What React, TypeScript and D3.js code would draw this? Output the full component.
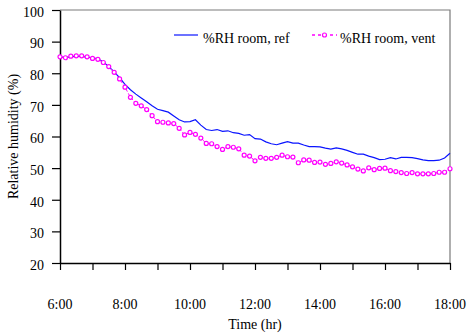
import { useEffect, useRef } from 'react';
import * as d3 from 'd3';

// readings every 10 minutes from 6:00 to 18:00
const rhRef = [
  85.1, 85.0, 85.2, 85.4, 85.3, 85.1, 84.9, 84.6, 83.6, 82.1, 80.4, 78.6, 76.5, 74.8, 73.4, 72.2, 71.0, 69.7,
  68.6, 68.2, 67.7, 66.5, 65.3, 64.6, 64.7, 65.3, 63.6, 62.2, 61.9, 62.2, 61.6, 61.8, 61.2, 61.0, 60.4, 60.6,
  59.3, 59.2, 58.3, 57.7, 57.4, 57.9, 58.4, 57.9, 57.9, 57.3, 56.8, 56.8, 56.7, 56.3, 56.0, 56.4, 56.1, 55.6,
  55.0, 54.4, 54.4, 53.8, 53.3, 52.7, 52.8, 53.3, 52.9, 53.4, 53.4, 53.3, 53.0, 52.6, 52.4, 52.4, 52.5, 53.2,
  54.7,
];

const rhVent = [
  85.2, 84.9, 85.4, 85.5, 85.5, 85.2, 84.7, 84.4, 83.4, 82.1, 80.3, 78.2, 75.6, 72.4, 70.5, 69.7, 68.5, 66.6,
  64.7, 64.5, 64.3, 64.1, 62.6, 60.5, 61.3, 60.7, 59.5, 57.8, 57.7, 56.8, 55.9, 56.8, 56.6, 56.1, 54.1, 53.8,
  52.3, 53.4, 53.1, 53.1, 53.4, 54.1, 53.6, 53.5, 51.7, 52.6, 52.5, 51.8, 51.9, 51.2, 51.5, 52.0, 51.6, 51.0,
  50.4, 49.7, 49.1, 50.1, 49.5, 49.9, 50.0, 49.2, 48.9, 48.6, 48.3, 48.6, 48.2, 48.2, 48.2, 48.3, 48.7, 48.7,
  49.8,
];

const xTickLabels = ['6:00', '8:00', '10:00', '12:00', '14:00', '16:00', '18:00'];
const yTicks = [20, 30, 40, 50, 60, 70, 80, 90, 100];
const seriesNames = ['%RH room, ref', '%RH room, vent'];

export default function App() {
  const svgRef = useRef<SVGSVGElement>(null);

  useEffect(() => {
    if (!svgRef.current) return;
    document.body.style.margin = '0';

    const width = 467;
    const height = 335;
    const margin = { top: 10, right: 17, bottom: 72, left: 60 };
    const innerWidth = width - margin.left - margin.right;
    const innerHeight = height - margin.top - margin.bottom;
    const font = '"Liberation Serif", "Times New Roman", serif';

    d3.select(svgRef.current).selectAll('*').remove();
    const svg = d3.select(svgRef.current).attr('width', width).attr('height', height);
    svg.append('rect').attr('width', width).attr('height', height).attr('fill', '#fff');

    const g = svg.append('g').attr('transform', `translate(${margin.left},${margin.top})`);

    const x = d3.scaleLinear().domain([6, 18]).range([0, innerWidth]);
    const y = d3.scaleLinear().domain([20, 100]).range([innerHeight, 0]);
    const hourOf = (i: number) => 6 + (i * 10) / 60;

    // grey frame on top and right
    g.append('path')
      .attr('d', `M0,0H${innerWidth}V${innerHeight}`)
      .attr('fill', 'none')
      .attr('stroke', '#7a7a7a')
      .attr('stroke-width', 1.2);

    const xAxis = g
      .append('g')
      .attr('transform', `translate(0,${innerHeight})`)
      .call(
        d3
          .axisBottom(x)
          .tickValues(d3.range(6, 19, 1))
          .tickSize(7)
          .tickSizeOuter(0)
          .tickFormat(() => '')
      );
    xAxis.select('.domain').attr('stroke', '#000').attr('stroke-width', 1.5);
    xAxis.selectAll('.tick line').attr('stroke', '#000').attr('stroke-width', 1.2);

    g.selectAll('.xlab')
      .data(xTickLabels)
      .enter()
      .append('text')
      .attr('x', (_, i) => x(6 + i * 2))
      .attr('y', innerHeight + 46)
      .attr('text-anchor', 'middle')
      .style('font-family', font)
      .style('font-size', '14px')
      .attr('fill', '#000')
      .text((d) => d);

    const yAxis = g.append('g').call(d3.axisLeft(y).tickValues(yTicks).tickSize(8).tickSizeOuter(0).tickPadding(8));
    yAxis.select('.domain').attr('stroke', '#000').attr('stroke-width', 1.5);
    yAxis.selectAll('.tick line').attr('stroke', '#000').attr('stroke-width', 1.2);
    yAxis
      .selectAll('.tick text')
      .style('font-family', font)
      .style('font-size', '14px')
      .attr('fill', '#000')
      .attr('dy', '0.45em');

    const line = d3
      .line<number>()
      .x((_, i) => x(hourOf(i)))
      .y((d) => y(d));

    g.append('path')
      .datum(rhRef)
      .attr('fill', 'none')
      .attr('stroke', '#0a14ff')
      .attr('stroke-width', 1.2)
      .attr('d', line);

    g.append('path')
      .datum(rhVent)
      .attr('fill', 'none')
      .attr('stroke', '#ff00ff')
      .attr('stroke-width', 1)
      .attr('stroke-dasharray', '3,2')
      .attr('d', line);

    g.selectAll('.vent')
      .data(rhVent)
      .enter()
      .append('circle')
      .attr('cx', (_, i) => x(hourOf(i)))
      .attr('cy', (d) => y(d))
      .attr('r', 2)
      .attr('fill', '#fff')
      .attr('stroke', '#ff00ff')
      .attr('stroke-width', 1.2);

    // axis titles
    svg
      .append('text')
      .attr('x', margin.left + innerWidth / 2)
      .attr('y', 329)
      .attr('text-anchor', 'middle')
      .style('font-family', font)
      .style('font-size', '14px')
      .text('Time (hr)');

    svg
      .append('text')
      .attr('transform', `translate(18,${margin.top + innerHeight / 2}) rotate(-90)`)
      .attr('text-anchor', 'middle')
      .style('font-family', font)
      .style('font-size', '14px')
      .text('Relative humidity (%)');

    // legend
    const leg = svg.append('g');
    leg
      .append('line')
      .attr('x1', 174)
      .attr('x2', 198)
      .attr('y1', 35)
      .attr('y2', 35)
      .attr('stroke', '#0a14ff')
      .attr('stroke-width', 1.2);
    leg
      .append('text')
      .attr('x', 203)
      .attr('y', 43)
      .style('font-family', font)
      .style('font-size', '14px')
      .text(seriesNames[0]);

    leg
      .append('line')
      .attr('x1', 312)
      .attr('x2', 337)
      .attr('y1', 35)
      .attr('y2', 35)
      .attr('stroke', '#ff00ff')
      .attr('stroke-width', 1.5)
      .attr('stroke-dasharray', '3,3');
    leg
      .append('circle')
      .attr('cx', 324.5)
      .attr('cy', 35)
      .attr('r', 2)
      .attr('fill', '#fff')
      .attr('stroke', '#ff00ff')
      .attr('stroke-width', 1.2);
    leg
      .append('text')
      .attr('x', 340)
      .attr('y', 43)
      .style('font-family', font)
      .style('font-size', '14px')
      .text(seriesNames[1]);
  }, []);

  return <svg ref={svgRef} style={{ display: 'block' }}></svg>;
}
